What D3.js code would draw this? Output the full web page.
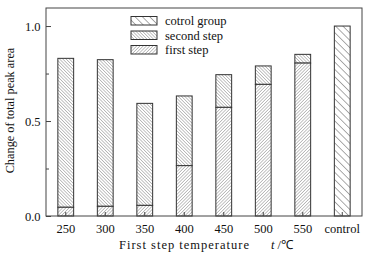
<!DOCTYPE html>
<html><head><meta charset="utf-8">
<script src="https://cdn.jsdelivr.net/npm/d3@7"></script>
<style>body{margin:0;background:#fff}svg{display:block}</style>
</head><body>
<svg id="c" width="370" height="258"></svg>
<script>
const categories = ["250","300","350","400","450","500","550","control"];
const firstStep  = [0.046,0.051,0.056,0.265,0.572,0.693,0.805,null];
const secondStep = [0.830,0.823,0.593,0.632,0.744,0.790,0.851,null];
const controlGroup = [null,null,null,null,null,null,null,1.0];
const yTicks = [0.0,0.5,1.0];
const yMinor = [0.25,0.75];
const legendLabels = ["cotrol group","second step","first step"];

const FONT = '"Liberation Serif", "Times New Roman", serif';
const svg = d3.select("#c");
const m = {l:46,t:8,r:362,b:216};
const x = d3.scaleBand().domain(categories).range([m.l,m.r]).paddingInner(0.6).paddingOuter(0.3);
const y = d3.scaleLinear().domain([0,1.095]).range([m.b,m.t]);

const defs = svg.append("defs");
function pat(id, w, angle, col, sw){
  const p = defs.append("pattern").attr("id",id).attr("patternUnits","userSpaceOnUse")
    .attr("width",w).attr("height",w).attr("patternTransform",`rotate(${angle})`);
  p.append("rect").attr("width",w).attr("height",w).attr("fill","#fff");
  p.append("line").attr("x1",0).attr("y1",0).attr("x2",0).attr("y2",w).attr("stroke",col).attr("stroke-width",sw);
}
pat("pControl",5.2,-45,"#444",0.9);
pat("pSecond",2.3,-45,"#555",0.7);
pat("pFirst",2.3,45,"#555",0.7);

const bw = x.bandwidth();
const data = categories.map((c,i)=>({c,f:firstStep[i],s:secondStep[i],ctl:controlGroup[i]}));
const g = svg.append("g");
data.forEach(d=>{
  if(d.s!=null){
    g.append("rect").attr("x",x(d.c)).attr("y",y(d.s)).attr("width",bw).attr("height",y(d.f)-y(d.s))
      .attr("fill","url(#pSecond)").attr("stroke","#333").attr("stroke-width",1);
    g.append("rect").attr("x",x(d.c)).attr("y",y(d.f)).attr("width",bw).attr("height",y(0)-y(d.f))
      .attr("fill","url(#pFirst)").attr("stroke","#333").attr("stroke-width",1);
  }
  if(d.ctl!=null){
    g.append("rect").attr("x",x(d.c)).attr("y",y(d.ctl)).attr("width",bw).attr("height",y(0)-y(d.ctl))
      .attr("fill","url(#pControl)").attr("stroke","#333").attr("stroke-width",1);
  }
});

svg.append("rect").attr("x",m.l).attr("y",m.t).attr("width",m.r-m.l).attr("height",m.b-m.t)
  .attr("fill","none").attr("stroke","#444").attr("stroke-width",1);

const ya = svg.append("g").attr("transform",`translate(${m.l},0)`)
  .call(d3.axisLeft(y).tickValues(yTicks).tickFormat(d3.format(".1f")).tickSizeInner(-5).tickSizeOuter(0).tickPadding(5.5));
ya.select(".domain").remove();
ya.selectAll("line").attr("stroke","#444");
ya.selectAll("text").style("font-size","12.5px").style("font-family",FONT).attr("fill","#111");
const ym = svg.append("g").attr("transform",`translate(${m.l},0)`)
  .call(d3.axisLeft(y).tickValues(yMinor).tickFormat("").tickSizeInner(-3).tickSizeOuter(0));
ym.select(".domain").remove(); ym.selectAll("line").attr("stroke","#444");

const xa = svg.append("g").attr("transform",`translate(0,${m.b})`)
  .call(d3.axisBottom(x).tickSizeInner(-4).tickSizeOuter(0).tickPadding(8));
xa.select(".domain").remove();
xa.selectAll("line").attr("stroke","#444");
xa.selectAll("text").style("font-size","12.5px").style("font-family",FONT).attr("fill","#111");

svg.append("text").attr("transform",`translate(14,110.5) rotate(-90)`).attr("text-anchor","middle")
  .style("font-size","12.3px").style("font-family",FONT).attr("fill","#111").text("Change of total peak area");
svg.append("text").attr("x",119).attr("y",248.5).style("font-size","12.5px").style("font-family",FONT)
  .style("letter-spacing","1px").attr("fill","#111").text("First step temperature");
const xt = svg.append("text").attr("x",271).attr("y",248.5).style("font-size","12.5px").style("font-family",FONT).attr("fill","#111");
xt.append("tspan").style("font-style","italic").text("t");
xt.append("tspan").attr("dx",3).text("/℃");

const pats = ["url(#pControl)","url(#pSecond)","url(#pFirst)"];
legendLabels.forEach((t,i)=>{
  const yy = 16.5 + i*14.5;
  svg.append("rect").attr("x",131).attr("y",yy).attr("width",26).attr("height",8.5)
    .attr("fill",pats[i]).attr("stroke","#333").attr("stroke-width",1);
  svg.append("text").attr("x",165).attr("y",yy+8.5).style("font-size","12.5px").style("font-family",FONT).attr("fill","#111").text(t);
});
</script>
</body></html>
